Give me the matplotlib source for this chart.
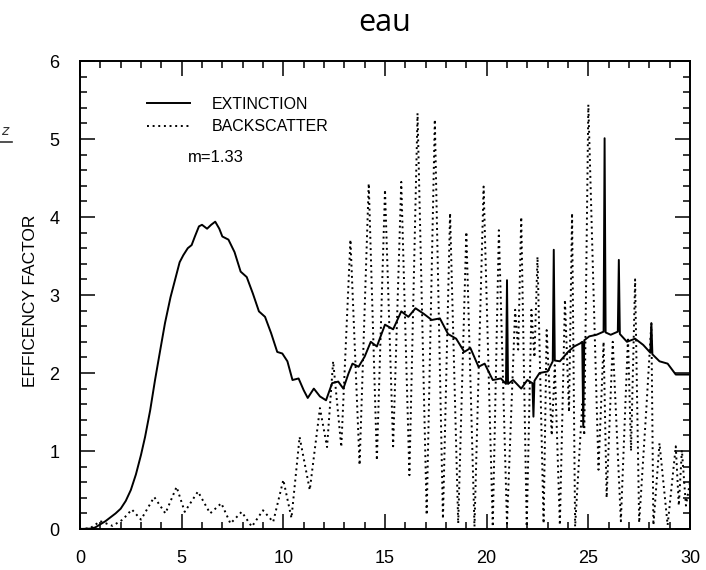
import numpy as np
import matplotlib.pyplot as plt
from matplotlib.lines import Line2D

# extinction efficiency (solid)
ext_x = [0, 0.5, 0.75, 1.0, 1.25, 1.5, 1.75, 2.0, 2.25, 2.5, 2.75, 3.0, 3.2,
         3.45, 3.69, 3.95, 4.18, 4.45, 4.67, 4.9, 5.08, 5.3, 5.49, 5.65, 5.85,
         6.0, 6.25, 6.45, 6.65, 6.85, 7.0, 7.3, 7.6, 7.9, 8.2, 8.5, 8.8, 9.1,
         9.4, 9.7, 9.95, 10.2, 10.45, 10.75, 11.0, 11.2, 11.5, 11.8, 12.1, 12.4,
         12.7, 12.95, 13.2, 13.4, 13.7, 14.0, 14.3, 14.6, 15.0, 15.4, 15.8,
         16.15, 16.5, 16.9, 17.3, 17.7, 18.1, 18.5, 18.9, 19.2, 19.6, 19.9,
         20.3, 20.7, 20.95, 21.0, 21.05, 21.3, 21.7, 22.0, 22.25, 22.3, 22.35,
         22.6, 23.0, 23.25, 23.3, 23.35, 23.6, 24.0, 24.3, 24.6, 24.7, 24.75,
         24.8, 25.05, 25.4, 25.75, 25.8, 25.85, 26.1, 26.45, 26.5, 26.55, 26.9,
         27.3, 27.7, 28.05, 28.1, 28.15, 28.5, 28.9, 29.3, 29.7, 30.0]
ext_y = [0, 0.005, 0.02, 0.06, 0.1, 0.15, 0.2, 0.26, 0.36, 0.5, 0.7, 0.95,
         1.18, 1.52, 1.91, 2.3, 2.64, 2.97, 3.19, 3.42, 3.51, 3.6, 3.64, 3.75,
         3.88, 3.9, 3.85, 3.9, 3.94, 3.85, 3.75, 3.71, 3.55, 3.3, 3.23, 3.02,
         2.79, 2.72, 2.51, 2.27, 2.25, 2.15, 1.91, 1.93, 1.78, 1.68, 1.8, 1.7,
         1.65, 1.87, 1.89, 1.8, 1.99, 2.12, 2.08, 2.21, 2.4, 2.34, 2.62, 2.56,
         2.79, 2.72, 2.83, 2.76, 2.68, 2.7, 2.5, 2.44, 2.27, 2.32, 2.08, 2.12,
         1.91, 1.93, 1.86, 3.19, 1.86, 1.91, 1.8, 1.91, 1.87, 1.44, 1.9, 2.0,
         2.02, 2.15, 3.58, 2.16, 2.15, 2.27, 2.34, 2.38, 2.40, 1.31, 2.42,
         2.47, 2.49, 2.53, 5.01, 2.52, 2.49, 2.53, 3.45, 2.5, 2.4, 2.44, 2.36,
         2.26, 2.64, 2.24, 2.15, 2.12, 1.98, 1.98, 1.98]

# backscatter efficiency (dotted)
back_x = [0, 0.5, 1.0, 1.6, 2.1, 2.55, 3.0, 3.65, 4.2, 4.75, 5.15, 5.8, 6.4,
          6.95, 7.4, 7.95, 8.45, 9.0, 9.5, 10.0, 10.4, 10.8, 11.3, 11.8, 12.15,
          12.45, 12.85, 13.3, 13.75, 14.2, 14.6, 15.0, 15.4, 15.8, 16.2, 16.6,
          17.05, 17.45, 17.85, 18.2, 18.6, 19.0, 19.4, 19.85, 20.3, 20.6, 21.0,
          21.4, 21.55, 21.7, 21.97, 22.2, 22.35, 22.5, 22.8, 22.95, 23.2, 23.35,
          23.6, 23.85, 24.05, 24.2, 24.35, 24.7, 24.8, 25.0, 25.5, 25.75, 25.9,
          26.2, 26.6, 26.95, 27.1, 27.3, 27.5, 27.85, 28.1, 28.2, 28.5, 28.9,
          29.3, 29.45, 29.6, 29.8, 30.0]
back_y = [0, 0.01, 0.10, 0.04, 0.12, 0.25, 0.12, 0.41, 0.2, 0.54, 0.22, 0.48,
          0.2, 0.33, 0.07, 0.22, 0.03, 0.24, 0.09, 0.63, 0.14, 1.18, 0.5, 1.55,
          1.05, 2.15, 1.05, 3.71, 0.82, 4.43, 0.88, 4.35, 1.06, 4.45, 0.69,
          5.33, 0.18, 5.25, 0.13, 4.05, 0.07, 3.81, 0.03, 4.39, 0.03, 3.83,
          0.07, 2.81, 2.3, 4.0, 0.03, 2.81, 2.2, 3.49, 0.07, 2.55, 1.2, 2.1,
          0.05, 2.94, 1.5, 4.05, 0.03, 1.6, 1.2, 5.44, 0.76, 2.4, 0.4, 2.4,
          0.1, 2.46, 1.0, 3.2, 0.08, 1.53, 2.64, 0.05, 1.1, 0.05, 1.06, 0.3,
          1.01, 0.3, 0.6]

fig = plt.figure(figsize=(7.06, 5.70), dpi=100)
ax = fig.add_axes([80/706, 1 - 529/570, 610/706, 468/570])

ax.plot(ext_x, ext_y, color="black", lw=1.4, label="EXTINCTION")
ax.plot(back_x, back_y, color="black", lw=1.4, linestyle=(0, (1, 1.9)),
        label="BACKSCATTER")

ax.set_xlim(0, 30)
ax.set_ylim(0, 6)
ax.set_xticks(np.arange(0, 31, 5))
ax.set_yticks(np.arange(0, 7, 1))
ax.set_xticks(np.arange(0, 31, 1), minor=True)
ax.set_yticks(np.arange(0, 6.01, 0.2), minor=True)
ax.tick_params(which="both", direction="in", top=True, right=True,
               width=1.1, color="black")
ax.tick_params(which="major", length=10.5)
ax.tick_params(which="minor", length=5)
ax.tick_params(axis="x", which="major", pad=15, labelsize=13)
ax.tick_params(axis="y", which="major", pad=15, labelsize=13)
for lbl in ax.get_xticklabels() + ax.get_yticklabels():
    lbl.set_fontfamily("Liberation Sans")
for s in ax.spines.values():
    s.set_linewidth(1.4)

leg = ax.legend(loc="upper left", bbox_to_anchor=(67/610, (529-97)/468),
                frameon=False, handlelength=2.7, handletextpad=1.35,
                borderpad=0, borderaxespad=0, labelspacing=0.45,
                prop={"family": "Liberation Sans", "size": 11.5})
ax.text((188-80)/610, (529-157)/468, "m=1.33", fontsize=12,
        family="Liberation Sans", va="center", ha="left",
        transform=ax.transAxes)

fig.text(31/706, 1 - 301/570, "EFFICENCY FACTOR",
         rotation=90, ha="center", va="center", fontsize=12.5,
         family="Liberation Sans")
fig.text(385/706, 1 - 31/570, "eau", ha="center", va="baseline",
         fontsize=22, family="Open Sans")

# cut-off underlined letter at the left edge of the slide
fig.text(1/706, 1 - 131/570, "z", ha="left", va="center",
         fontsize=10, color="#333333", style="italic")
fig.add_artist(Line2D([0/706, 12/706], [1 - 142/570, 1 - 142/570],
                      transform=fig.transFigure, color="#333333", lw=1.2))

fig.savefig("out.png", dpi=100)
